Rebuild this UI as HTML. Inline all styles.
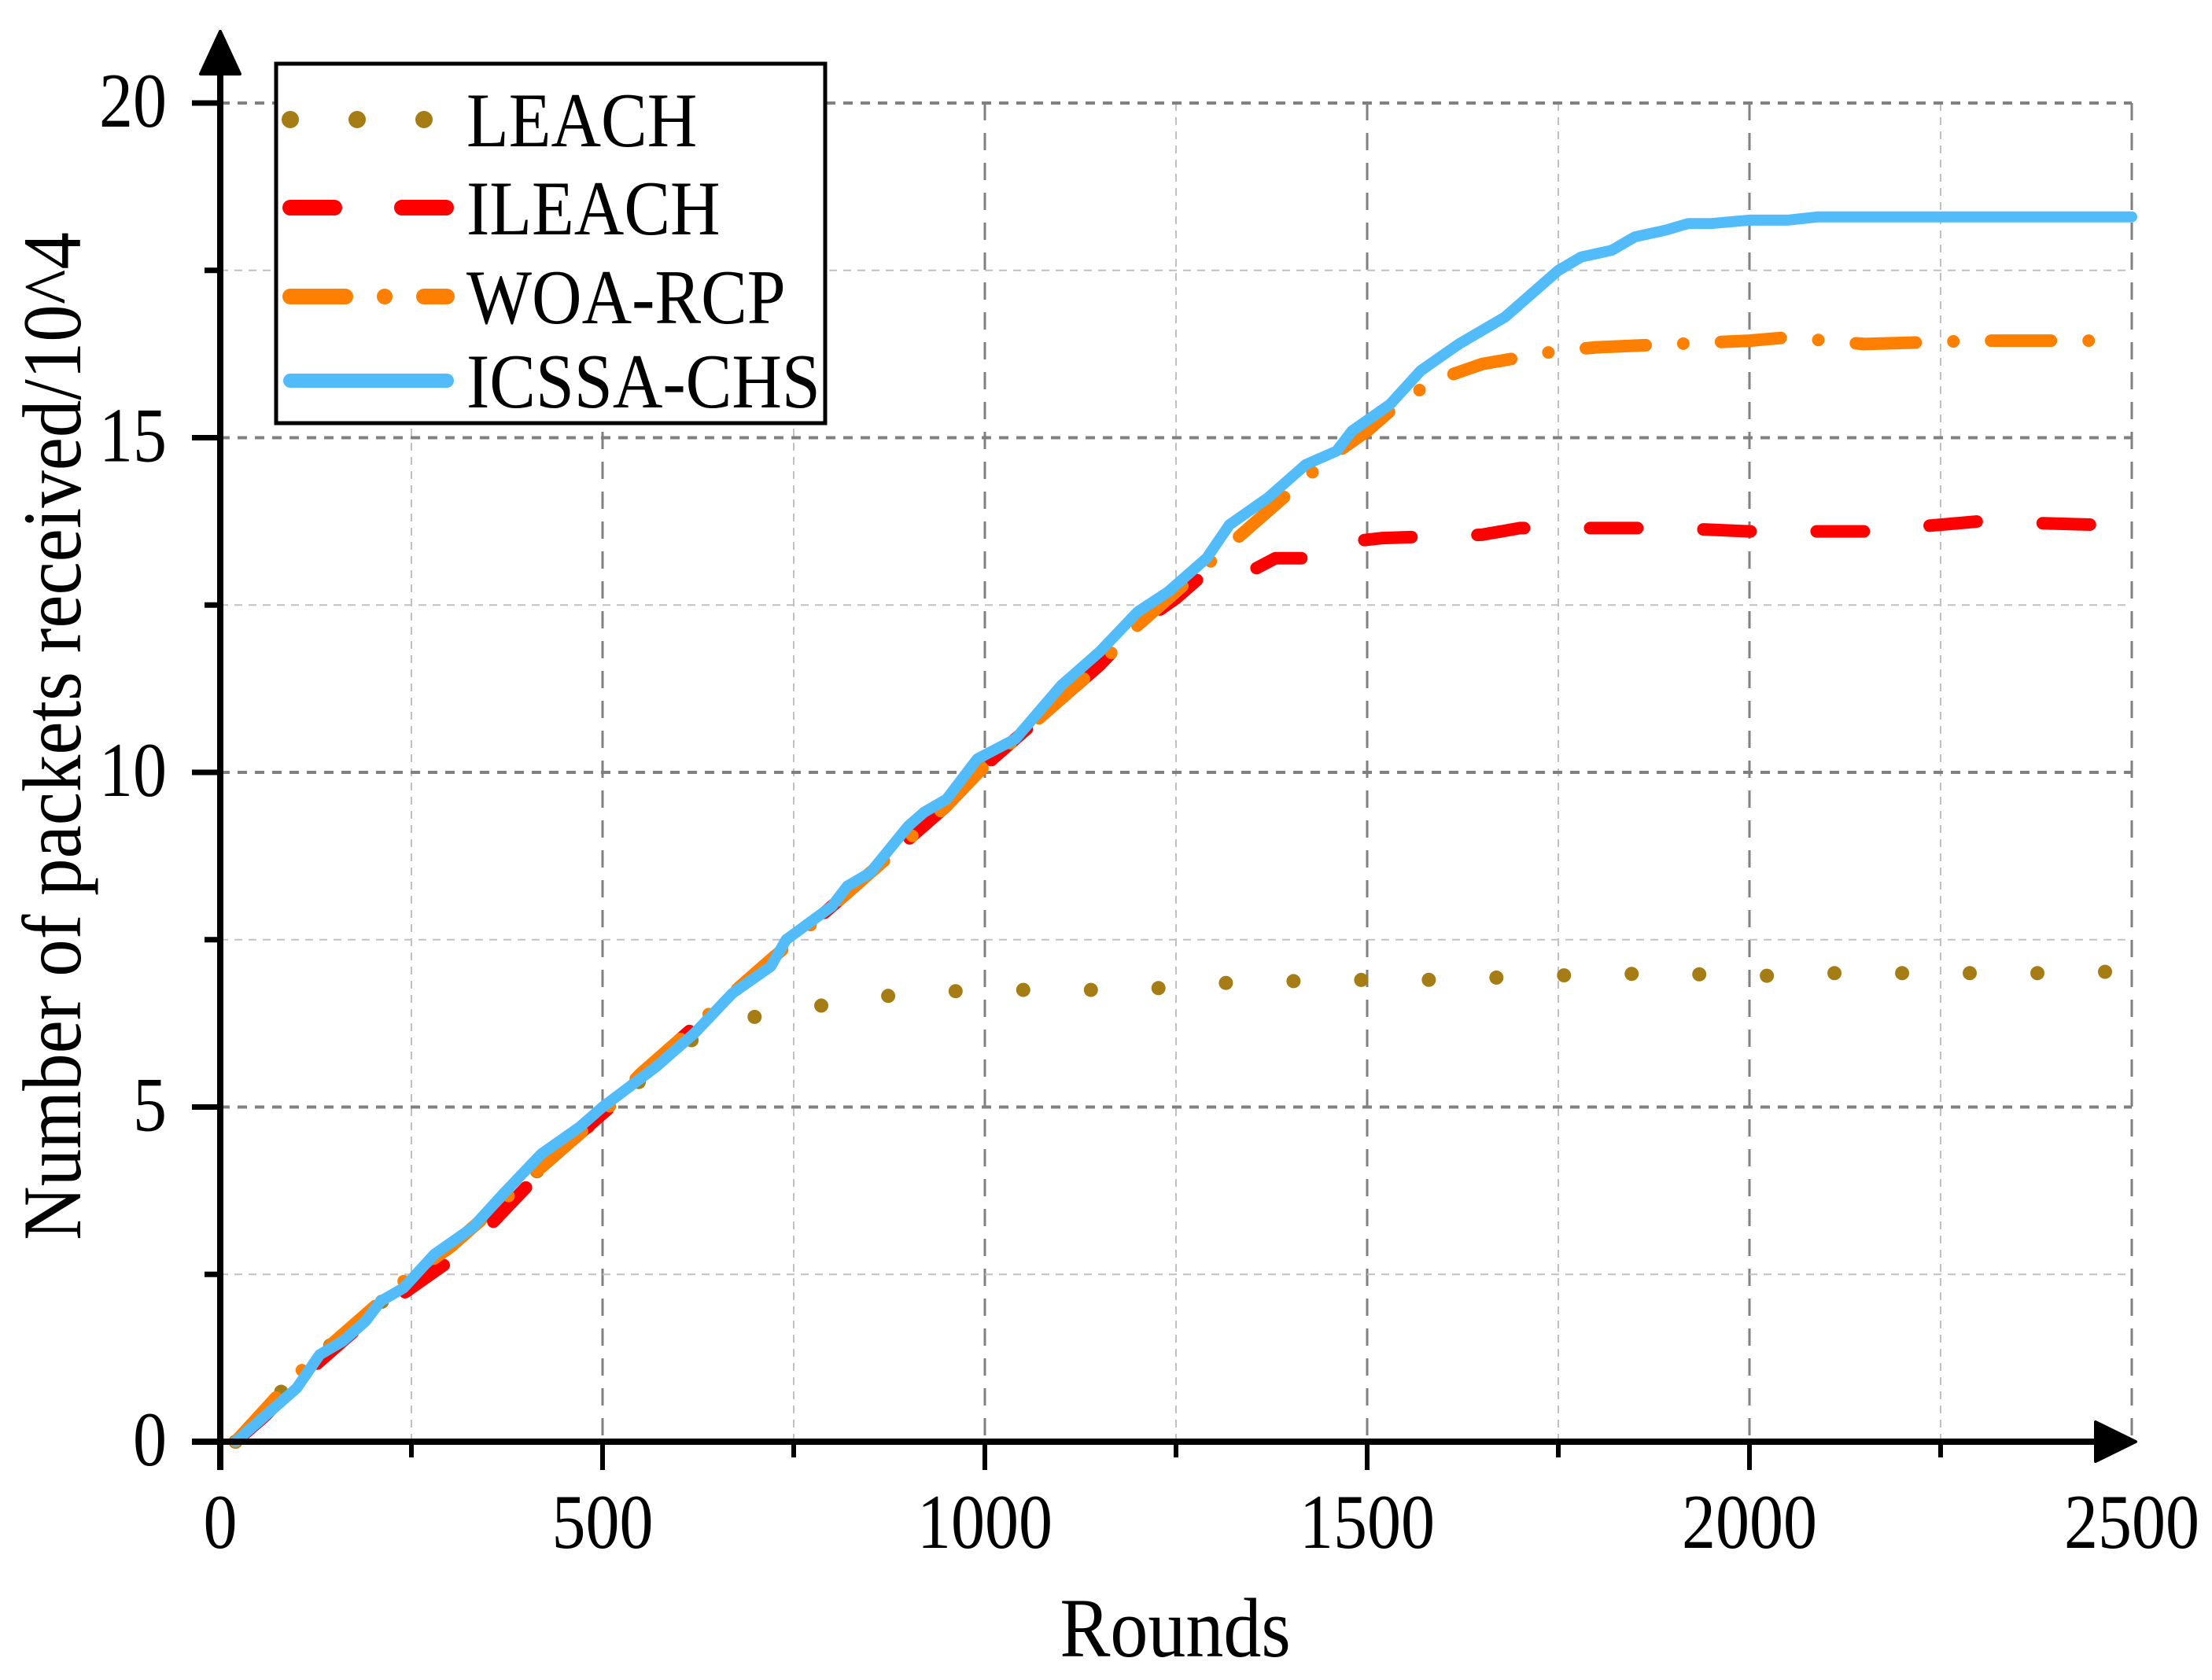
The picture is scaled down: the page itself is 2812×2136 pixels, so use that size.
<!DOCTYPE html>
<html><head><meta charset="utf-8"><style>
html,body{margin:0;padding:0;background:#fff;}
svg{display:block;font-family:"Liberation Serif",serif;}
</style></head><body>
<svg id="chart" width="2812" height="2136" viewBox="0 0 2812 2136" xmlns="http://www.w3.org/2000/svg">
<g id="grid"></g>
<g id="series"></g>
<g id="axes"></g>
<g id="legend">
  <rect x="351" y="81" width="698" height="457" fill="#fff" stroke="#000" stroke-width="5"/>
</g>
<text transform="translate(1494,2106) scale(1,1.12)" font-size="96" text-anchor="middle">Rounds</text>
<text transform="translate(102,936) rotate(-90) scale(1,1.12)" font-size="95" text-anchor="middle">Number of packets received/10^4</text>
</svg>
<script>
const xTicks = [0, 500, 1000, 1500, 2000, 2500];
const yTicks = [0, 5, 10, 15, 20];
const seriesNames = ["LEACH", "ILEACH", "WOA-RCP", "ICSSA-CHS"];
const leachX = [20,60,100,150,200,250,300,350,400,450,500,550,600,650,700,760,800,900,1000,1100,1200,1300,1400,1500,1600,1700,1800,1900,2000,2100,2200,2300,2400,2500];
const leachY = [0,0.5,1.0,1.5,2.0,2.4,2.9,3.4,3.9,4.4,4.9,5.4,5.9,6.2,6.35,6.45,6.55,6.7,6.75,6.75,6.75,6.85,6.88,6.9,6.9,6.95,6.98,7.0,6.95,7.0,7.0,7.0,7.0,7.03];
const ileachX = [20,60,100,150,200,250,300,350,400,450,500,550,600,650,700,750,800,850,900,950,1000,1050,1100,1150,1200,1250,1290,1330,1380,1420,1480,1520,1650,1700,1800,1900,2000,2150,2250,2300,2450];
const ileachY = [0,0.4,0.9,1.4,1.9,2.3,2.7,3.2,3.8,4.4,4.9,5.4,6.0,6.5,7.0,7.5,8.0,8.5,9.0,9.5,10.1,10.6,11.1,11.6,12.2,12.6,13.0,12.9,13.2,13.2,13.45,13.5,13.55,13.65,13.65,13.65,13.6,13.6,13.7,13.75,13.7];
const woaX = [20,60,100,150,200,250,300,350,400,450,500,550,600,650,700,750,800,850,900,950,1000,1050,1100,1150,1200,1250,1300,1350,1400,1450,1500,1550,1600,1650,1700,1750,1800,1900,2000,2050,2100,2150,2300,2450];
const woaY = [0,0.5,1.0,1.5,2.0,2.5,2.9,3.4,3.9,4.4,4.9,5.5,6.0,6.5,7.0,7.5,8.0,8.5,9.0,9.5,10.1,10.6,11.1,11.6,12.2,12.7,13.2,13.7,14.2,14.7,15.1,15.6,15.9,16.1,16.2,16.3,16.35,16.4,16.45,16.5,16.45,16.4,16.45,16.45];
const icssaX = [20,50,100,130,160,190,210,240,280,330,370,420,470,500,570,620,670,720,740,800,820,850,900,920,950,990,1040,1100,1150,1200,1240,1290,1320,1370,1420,1460,1480,1530,1570,1620,1650,1680,1750,1780,1820,1850,1890,1920,1950,2000,2050,2090,2500];
const icssaY = [0,0.3,0.8,1.3,1.5,1.8,2.1,2.3,2.8,3.2,3.7,4.3,4.7,5.0,5.6,6.1,6.7,7.1,7.5,8.0,8.3,8.5,9.2,9.4,9.6,10.2,10.5,11.3,11.8,12.4,12.7,13.2,13.7,14.1,14.6,14.8,15.1,15.5,16.0,16.4,16.6,16.8,17.5,17.7,17.8,18.0,18.1,18.2,18.2,18.25,18.25,18.3,18.3];

const X0=280, X1=2710, Y0=1833, Y1=131;
const xs = v => X0 + (v/2500)*(X1-X0);
const ys = v => Y0 - (v/20)*(Y0-Y1);
const NS="http://www.w3.org/2000/svg";
function mk(tag, attrs, parent){const e=document.createElementNS(NS,tag);for(const k in attrs)e.setAttribute(k,attrs[k]);parent.appendChild(e);return e;}

const grid=document.getElementById('grid');
for(let v=250; v<=2500; v+=250){
  const major = v%500===0;
  const l=mk('line',{x1:xs(v),x2:xs(v),y1:Y1,y2:Y0,stroke:major?'#808080':'#c0c0c0','stroke-width':major?3:2,'stroke-dasharray':major?'22 16':'10 8'},grid);
  
  
}
for(let v=2.5; v<=20; v+=2.5){
  const major = v%5===0;
  const l=mk('line',{x1:X0,x2:X1,y1:ys(v),y2:ys(v),stroke:major?'#808080':'#c0c0c0','stroke-width':major?4:2,'stroke-dasharray':major?'12 10':'10 8'},grid);
  
  
}

const ser=document.getElementById('series');
const styles=[
  {c:'#a67c14',d:'0 86',w:18,xs:leachX,ys:leachY},
  {c:'#ff0000',d:'60 84',w:16,xs:ileachX,ys:ileachY},
  {c:'#ff8000',d:'76 48 0 48',w:16,xs:woaX,ys:woaY},
  {c:'#52bcfb',d:'none',w:14,xs:icssaX,ys:icssaY}
];
styles.forEach((s,i)=>{
  const pts=s.xs.map((x,j)=>xs(x).toFixed(1)+','+ys(s.ys[j]).toFixed(1)).join(' ');
  const p=mk('polyline',{points:pts,fill:'none',stroke:s.c,'stroke-width':s.w,'stroke-linecap':'round','stroke-linejoin':'round'},ser);
  if(s.d!=='none')p.setAttribute('stroke-dasharray',s.d);
  
  
});

const ax=document.getElementById('axes');
let a=mk('line',{x1:X0,x2:X0,y1:Y0+36,y2:80,stroke:'#000','stroke-width':8},ax);


a=mk('polygon',{points:`${X0},40 ${X0-25},94 ${X0+25},94`,fill:'#000','stroke':'#000','stroke-width':4,'stroke-linejoin':'round'},ax);


a=mk('line',{x1:X0-36,x2:2670,y1:Y0,y2:Y0,stroke:'#000','stroke-width':8},ax);


a=mk('polygon',{points:`2715,${Y0} 2664,${Y0-25} 2664,${Y0+25}`,fill:'#000','stroke':'#000','stroke-width':4,'stroke-linejoin':'round'},ax);


for(let v=250; v<2500; v+=250){
  const major=v%500===0;
  const t=mk('line',{x1:xs(v),x2:xs(v),y1:Y0,y2:Y0+(major?36:20),stroke:'#000','stroke-width':6},ax);
  
  
}
for(let v=2.5; v<=20; v+=2.5){
  const major=v%5===0;
  const t=mk('line',{x1:X0-(major?36:20),x2:X0,y1:ys(v),y2:ys(v),stroke:'#000','stroke-width':7},ax);
  
  
}
xTicks.forEach(v=>{
  const t=mk('text',{transform:`translate(${xs(v)},${Y0+135}) scale(1,1.15)`,'font-size':86,'text-anchor':'middle'},ax);
  t.textContent=v;
  
  
});
yTicks.forEach(v=>{
  const t=mk('text',{transform:`translate(${X0-68},${ys(v)+30}) scale(1,1.15)`,'font-size':86,'text-anchor':'end'},ax);
  t.textContent=v;
  
  
});

const lg=document.getElementById('legend');
const ly=[152,264,377,484];
styles.forEach((s,i)=>{
  const l=mk('line',{x1:369,x2:568,y1:ly[i],y2:ly[i],stroke:s.c,'stroke-width':s.w+4,'stroke-linecap':'round'},lg);
  if(s.d!=='none')l.setAttribute('stroke-dasharray', i===0?'0 85':(i===1?'56 86':'70 50 0 50'));
  
  
  const t=mk('text',{transform:`translate(593,${ly[i]+34}) scale(1,1.12)`,'font-size':88},lg);
  t.textContent=seriesNames[i];
  
  
});
</script>
</body></html>
